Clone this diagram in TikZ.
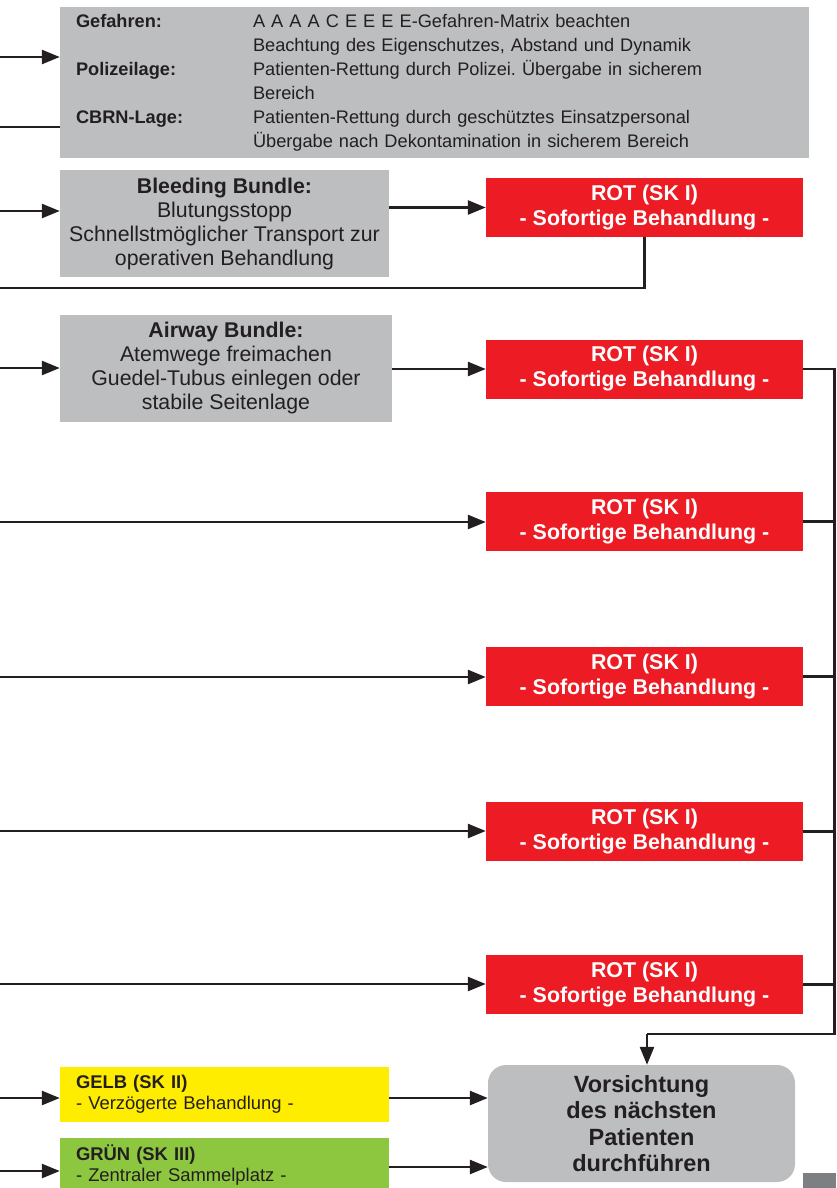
\documentclass[tikz,border=0pt]{standalone}
\usepackage{fontspec}
\setmainfont{Liberation Sans}
\usetikzlibrary{arrows.meta}
\definecolor{boxgrey}{HTML}{BCBEC0}
\definecolor{rotred}{HTML}{ED1C24}
\definecolor{gelbyellow}{HTML}{FFED00}
\definecolor{gruengreen}{HTML}{8DC63F}
\definecolor{ink}{HTML}{231F20}
\definecolor{tabgrey}{HTML}{7D8082}
\frenchspacing
\begin{document}
\begin{tikzpicture}[x=1pt,y=-1pt,
  line/.style={line width=2.6pt, draw=ink},
  arr/.style={line, -{Triangle[length=18pt,width=14pt]}},
  panel/.style={fill=boxgrey, draw=none, inner sep=0pt, text=ink},
  bundle/.style={panel, minimum height=107pt, align=center,
    font=\fontsize{21.3}{24}\selectfont},
  rotbox/.style={fill=rotred, draw=none, inner sep=0pt, text=white,
    minimum width=317pt, minimum height=59pt, align=center,
    font=\bfseries\fontsize{21.4}{25}\selectfont},
  skbox/.style={draw=none, inner sep=0pt, text=ink, minimum width=329pt,
    minimum height=55pt, text width=297pt, align=left,
    font=\fontsize{18.4}{21}\selectfont},
]
\useasboundingbox (0,0) rectangle (836,1188);
\clip (0,0) rectangle (836,1188);

% hazard information panel
\node[panel, minimum width=749pt, minimum height=151pt, text width=717pt,
  align=left, font=\fontsize{18.2}{24}\selectfont] (haz) at (434.5,82.5)
  {\makebox[177pt][l]{\bfseries Gefahren:}A A A A C E E E E-Gefahren-Matrix beachten\\
   \hspace*{177pt}Beachtung des Eigenschutzes, Abstand und Dynamik\\
   \makebox[177pt][l]{\bfseries Polizeilage:}Patienten-Rettung durch Polizei. Übergabe in sicherem\\
   \hspace*{177pt}Bereich\\
   \makebox[177pt][l]{\bfseries CBRN-Lage:}Patienten-Rettung durch geschütztes Einsatzpersonal\\
   \hspace*{177pt}Übergabe nach Dekontamination in sicherem Bereich};

% treatment bundles
\node[bundle, minimum width=329pt] (bleed) at (224.5,223.5)
  {\textbf{Bleeding Bundle:}\\Blutungsstopp\\Schnellstmöglicher Transport zur\\operativen Behandlung};
\node[bundle, minimum width=332pt] (airway) at (226,368)
  {\textbf{Airway Bundle:}\\Atemwege freimachen\\Guedel-Tubus einlegen oder\\stabile Seitenlage};

% red category boxes
\node[rotbox] (rot1) at (644.5,207.5) {ROT (SK I)\\- Sofortige Behandlung -};
\node[rotbox] (rot2) at (644.5,369) {ROT (SK I)\\- Sofortige Behandlung -};
\node[rotbox] (rot3) at (644.5,521.5) {ROT (SK I)\\- Sofortige Behandlung -};
\node[rotbox] (rot4) at (644.5,676.5) {ROT (SK I)\\- Sofortige Behandlung -};
\node[rotbox] (rot5) at (644.5,831.5) {ROT (SK I)\\- Sofortige Behandlung -};
\node[rotbox] (rot6) at (644.5,984.5) {ROT (SK I)\\- Sofortige Behandlung -};

% yellow and green categories
\node[skbox, fill=gelbyellow] (gelb) at (224.5,1094.5)
  {\textbf{GELB (SK II)}\\- Verzögerte Behandlung -};
\node[skbox, fill=gruengreen] (gruen) at (224.5,1165)
  {\textbf{GRÜN (SK III)}\\- Zentraler Sammelplatz -};

% next patient
\node[fill=boxgrey, draw=none, rounded corners=18pt, text=ink,
  minimum width=307pt, minimum height=117pt, inner sep=0pt, align=center,
  font=\bfseries\fontsize{23.5}{26.6}\selectfont] (vors) at (641.5,1123.5)
  {Vorsichtung\\des nächsten\\Patienten\\durchführen};

\fill[tabgrey] (803,1173) rectangle (836,1188);

% free ends on the left edge
\coordinate (inHaz) at (0,57);
\coordinate (inHazB) at (0,127);
\coordinate (inBleed) at (0,211);
\coordinate (outRot) at (0,288);
\coordinate (inAir) at (0,368);
\coordinate (inR3) at (0,522);
\coordinate (inR4) at (0,677);
\coordinate (inR5) at (0,831);
\coordinate (inR6) at (0,984);
\coordinate (inGelb) at (0,1098);
\coordinate (inGruen) at (0,1171);
\coordinate (outGruen) at (0,1167);
% collecting bus on the right
\coordinate (busEnd) at (834.5,1034);
\coordinate (drop) at (647,1034);

% connectors
\draw[arr] (inHaz) -- (inHaz -| haz.west);
\draw[line] (inHazB) -- (inHazB -| haz.west);
\draw[arr] (inBleed) -- (inBleed -| bleed.west);
\draw[arr] (rot1.west -| bleed.east) -- (rot1.west);
\draw[line] (rot1.south) |- (outRot);
\draw[arr] (inAir) -- (inAir -| airway.west);
\draw[arr] (rot2.west -| airway.east) -- (rot2.west);
\draw[arr] (inR3) -- (inR3 -| rot3.west);
\draw[arr] (inR4) -- (inR4 -| rot4.west);
\draw[arr] (inR5) -- (inR5 -| rot5.west);
\draw[arr] (inR6) -- (inR6 -| rot6.west);
\draw[line] (rot2.east) -| (busEnd) -- (drop);
\draw[line] (rot3.east) -- (rot3.east -| busEnd);
\draw[line] (rot4.east) -- (rot4.east -| busEnd);
\draw[line] (rot5.east) -- (rot5.east -| busEnd);
\draw[line] (rot6.east) -- (rot6.east -| busEnd);
\draw[arr] (drop) -- (drop |- vors.north);
\draw[arr] (inGelb) -- (inGelb -| gelb.west);
\draw[arr] (inGelb -| gelb.east) -- (inGelb -| vors.west);
\draw[arr] (inGruen) -- (inGruen -| gruen.west);
\draw[arr] (outGruen -| gruen.east) -- (outGruen -| vors.west);
\end{tikzpicture}
\end{document}
